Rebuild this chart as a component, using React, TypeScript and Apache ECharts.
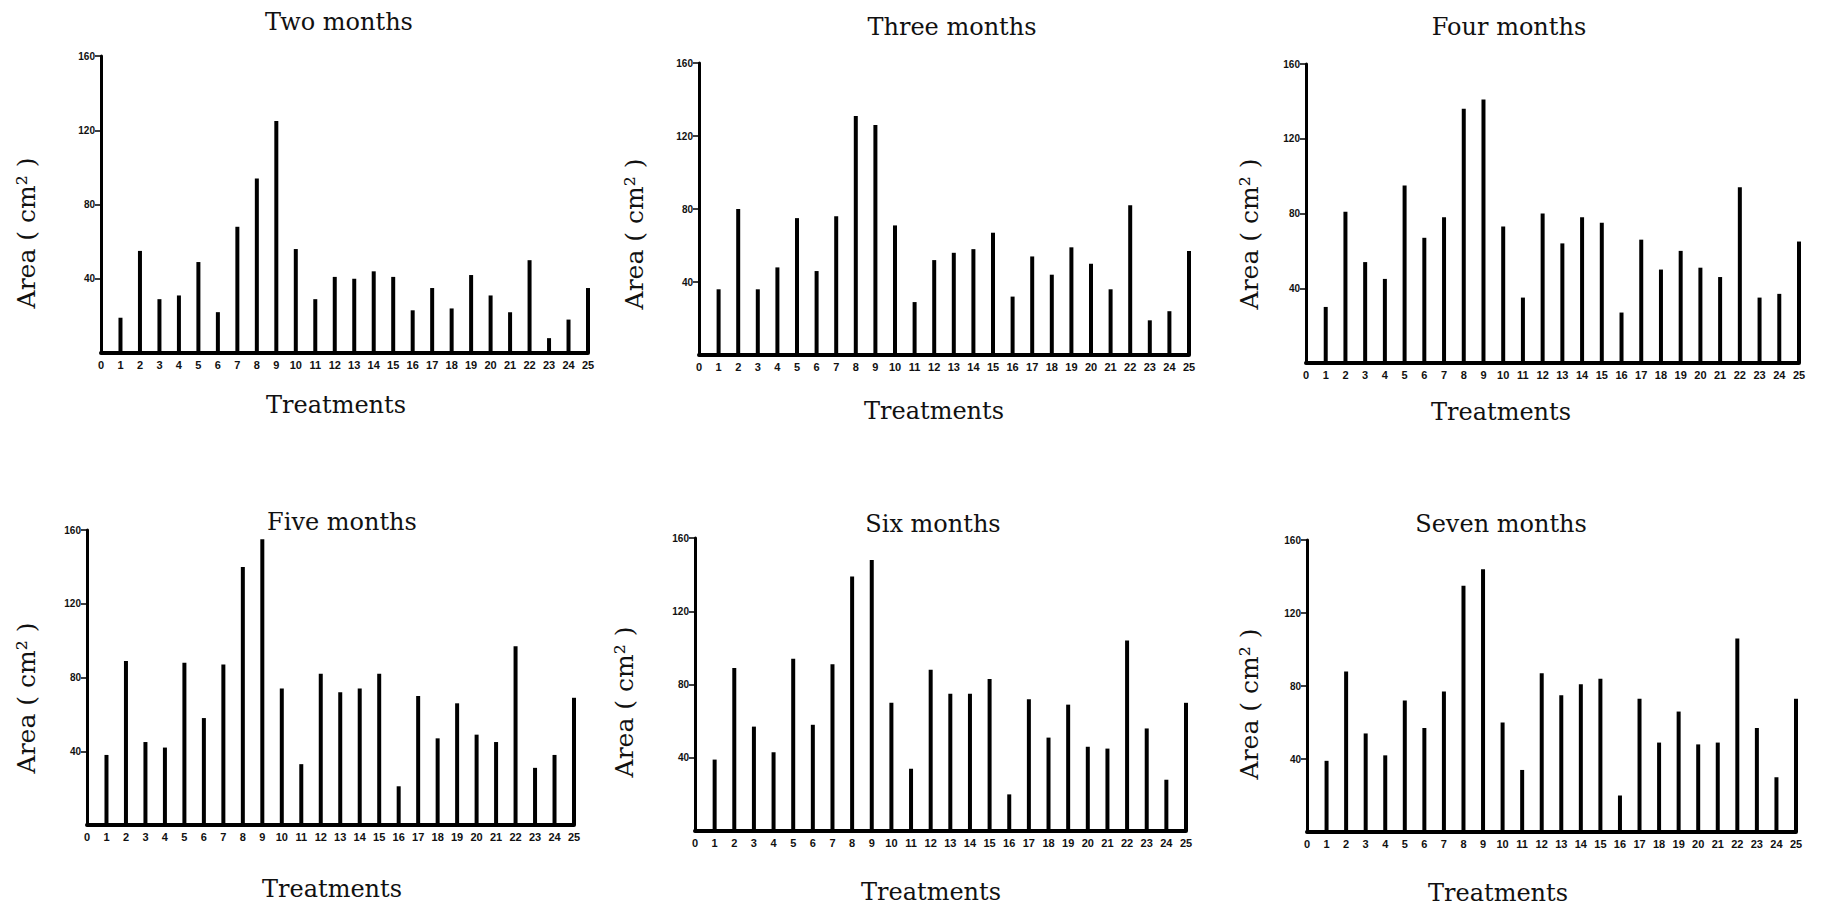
import React, { useEffect, useRef } from "react";
import * as echarts from "echarts";

const treatments = Array.from({ length: 26 }, (_, i) => String(i));
const yTicks = ["40", "80", "120", "160"];
const panelTitles = ["Two months", "Three months", "Four months", "Five months", "Six months", "Seven months"];

const twoMonths = [19, 55, 29, 31, 49, 22, 68, 94, 125, 56, 29, 41, 40, 44, 41, 23, 35, 24, 42, 31, 22, 50, 8, 18, 35];
const threeMonths = [36, 80, 36, 48, 75, 46, 76, 131, 126, 71, 29, 52, 56, 58, 67, 32, 54, 44, 59, 50, 36, 82, 19, 24, 57];
const fourMonths = [30, 81, 54, 45, 95, 67, 78, 136, 141, 73, 35, 80, 64, 78, 75, 27, 66, 50, 60, 51, 46, 94, 35, 37, 65];
const fiveMonths = [38, 89, 45, 42, 88, 58, 87, 140, 155, 74, 33, 82, 72, 74, 82, 21, 70, 47, 66, 49, 45, 97, 31, 38, 69];
const sixMonths = [39, 89, 57, 43, 94, 58, 91, 139, 148, 70, 34, 88, 75, 75, 83, 20, 72, 51, 69, 46, 45, 104, 56, 28, 70];
const sevenMonths = [39, 88, 54, 42, 72, 57, 77, 135, 144, 60, 34, 87, 75, 81, 84, 20, 73, 49, 66, 48, 49, 106, 57, 30, 73];

const seriesData = [twoMonths, threeMonths, fourMonths, fiveMonths, sixMonths, sevenMonths];

// layout (pixels)
const grids = [
  { left: 101, top: 56, width: 487, height: 297 },
  { left: 699, top: 63, width: 490, height: 292 },
  { left: 1306, top: 64, width: 493, height: 299 },
  { left: 87, top: 530, width: 487, height: 295 },
  { left: 695, top: 538, width: 491, height: 293 },
  { left: 1307, top: 540, width: 489, height: 292 },
];
const titlePos = [
  [339, 22], [952, 27], [1509, 27], [342, 522], [933, 524], [1501, 524],
];
const xNamePos = [
  [336, 405], [934, 411], [1501, 412], [332, 889], [931, 892], [1498, 893],
];
const yNamePos = [
  [26, 233], [634, 234], [1249, 234], [26, 698], [624, 702], [1249, 704],
];

const serif = "'DejaVu Serif', serif";

export default function App() {
  const ref = useRef<HTMLDivElement>(null);
  useEffect(() => {
    if (!ref.current) return;
    const chart = echarts.init(ref.current, undefined, { renderer: "svg" });
    const graphic: any[] = [];
    panelTitles.forEach((t, i) => {
      graphic.push({
        type: "text",
        x: titlePos[i][0],
        y: titlePos[i][1],
        style: { text: t, font: `24px ${serif}`, fill: "#111", align: "center", verticalAlign: "middle" },
      });
      graphic.push({
        type: "text",
        x: xNamePos[i][0],
        y: xNamePos[i][1],
        style: { text: "Treatments", font: `24px ${serif}`, fill: "#111", align: "center", verticalAlign: "middle" },
      });
      graphic.push({
        type: "text",
        x: yNamePos[i][0],
        y: yNamePos[i][1],
        rotation: Math.PI / 2,
        style: { text: "Area ( cm² )", font: `25px ${serif}`, fill: "#111", align: "center", verticalAlign: "middle" },
      });
    });
    const option: any = {
      animation: false,
      backgroundColor: "#fff",
      grid: grids.map((g) => ({ ...g, containLabel: false })),
      xAxis: grids.map((_, i) => ({
        type: "value",
        gridIndex: i,
        min: 0,
        max: 25,
        interval: 1,
        splitLine: { show: false },
        axisTick: { show: false },
        axisLine: { show: true, onZero: false, lineStyle: { color: "#000", width: 4 } },
        axisLabel: {
          color: "#111",
          fontSize: 11,
          fontWeight: "bold",
          margin: 6,
          formatter: (v: number) => treatments[v] ?? "",
        },
      })),
      yAxis: grids.map((_, i) => ({
        type: "value",
        gridIndex: i,
        min: 0,
        max: 160,
        interval: 40,
        splitLine: { show: false },
        axisLine: { show: true, lineStyle: { color: "#000", width: 3 } },
        axisTick: { show: true, length: 6, lineStyle: { color: "#000", width: 1.5 } },
        axisLabel: {
          color: "#111",
          fontSize: 10,
          fontWeight: "bold",
          margin: 6,
          showMinLabel: false,
          formatter: (v: number) => (yTicks.includes(String(v)) ? String(v) : ""),
        },
      })),
      series: seriesData.map((d, i) => ({
        type: "bar",
        name: panelTitles[i],
        xAxisIndex: i,
        yAxisIndex: i,
        barWidth: 4,
        itemStyle: { color: "#000" },
        data: d.map((v, k) => [k + 1, v]),
      })),
      graphic,
    };
    chart.setOption(option);
    return () => chart.dispose();
  }, []);
  return (
    <div
      ref={ref}
      style={{ position: "absolute", left: 0, top: 0, width: 1831, height: 907, background: "#fff" }}
    />
  );
}
